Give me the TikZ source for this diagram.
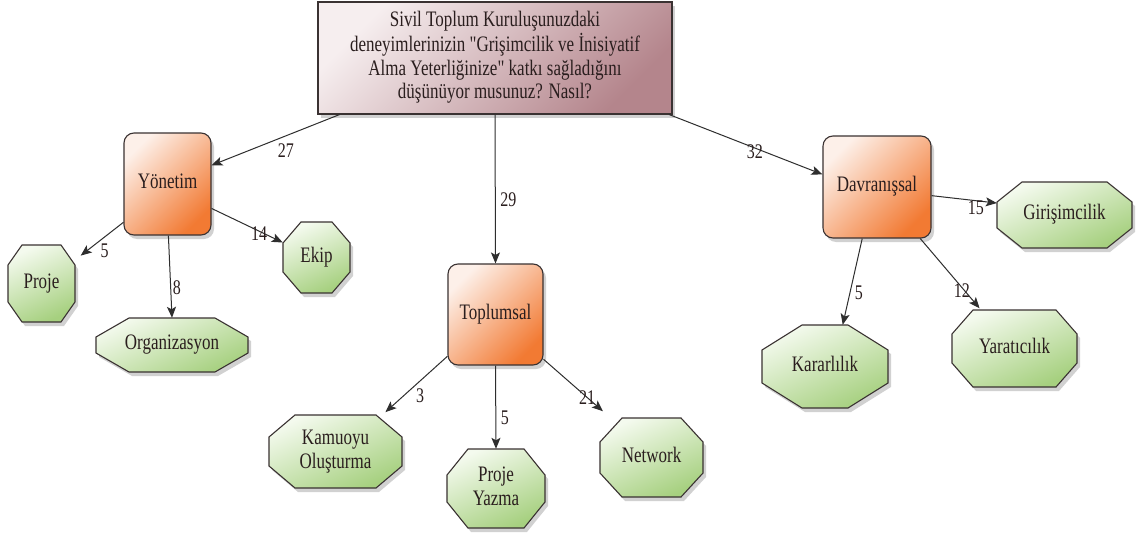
\documentclass[tikz,border=0pt]{standalone}
\usepackage{fontspec}
\setmainfont{Liberation Serif}[Ligatures=TeXOff]
\usepackage{graphicx}
\usetikzlibrary{arrows.meta,shadows}
\definecolor{txt}{HTML}{2A1E1E}
\definecolor{edgec}{HTML}{3A3232}
\definecolor{linec}{HTML}{2E2E2E}
\definecolor{topA}{HTML}{F6EEEF}
\definecolor{topB}{HTML}{E2CDD0}
\definecolor{topC}{HTML}{B4858C}
\definecolor{orA}{HTML}{FDF0E9}
\definecolor{orB}{HTML}{FAC6AC}
\definecolor{orC}{HTML}{F27A33}
\definecolor{grA}{HTML}{F4FAEE}
\definecolor{grB}{HTML}{D6EBC2}
\definecolor{grC}{HTML}{A6D07F}
\newcommand\dtxt[1]{\scalebox{1}[1.3]{\begin{tabular}{@{}c@{}}#1\end{tabular}}}
\tikzset{
  shad/.style={drop shadow={shadow xshift=3pt,shadow yshift=-4pt,opacity=.18,fill=black}},
  topbox/.style={rectangle,draw=edgec,line width=1.1pt,top color=topA,middle color=topB,bottom color=topC,shading angle=45,shad,
    text=txt,font=\rmfamily\fontsize{17}{18}\selectfont,inner sep=0pt},
  catbox/.style={rectangle,rounded corners=10pt,draw=edgec,line width=1.1pt,top color=orA,middle color=orB,bottom color=orC,shading angle=45,shad,
    text=txt,font=\rmfamily\fontsize{17}{18}\selectfont,inner sep=0pt},
  octfill/.style={draw=edgec,line width=1.1pt,top color=grA,middle color=grB,bottom color=grC,shading angle=25,shad},
  octtext/.style={rectangle,inner sep=0pt,text=txt,font=\rmfamily\fontsize{17}{18.5}\selectfont},
  arr/.style={draw=linec,line width=1pt,-{Stealth[length=11pt,width=9pt,inset=2.5pt]}},
  lab/.style={inner sep=0pt,text=txt,font=\rmfamily\fontsize{16}{17}\selectfont},
}
% name, x1, y1, x2, y2, chamfer x, chamfer y, text
\newcommand\octnode[8]{%
  \path[octfill] ({#2+#6},{#3}) -- ({#4-#6},{#3}) -- ({#4},{#3+#7}) -- ({#4},{#5-#7})
    -- ({#4-#6},{#5}) -- ({#2+#6},{#5}) -- ({#2},{#5-#7}) -- ({#2},{#3+#7}) -- cycle;
  \node[octtext,minimum width={(#4-#2)*1pt},minimum height={(#5-#3)*1pt}] (#1) at ({(#2+#4)/2},{(#3+#5)/2}) {\dtxt{#8}};
}
\begin{document}
\begin{tikzpicture}[x=1pt,y=-1pt]
\useasboundingbox (0,0) rectangle (1137,535);
\fill[white] (0,0) rectangle (1137,535);

% main question
\node[topbox,minimum width=354pt,minimum height=112pt] (top) at (495,58)
  {\dtxt{Sivil Toplum Kuruluşunuzdaki\\deneyimlerinizin "Grişimcilik ve İnisiyatif\\Alma Yeterliğinize" katkı sağladığını\\düşünüyor musunuz? Nasıl?}};

% categories
\node[catbox,minimum width=87pt,minimum height=102pt] (yon) at (167.5,184) {\dtxt{Yönetim}};
\node[catbox,minimum width=95pt,minimum height=101pt] (topl) at (495.5,314.5) {\dtxt{Toplumsal}};
\node[catbox,minimum width=108pt,minimum height=102pt] (dav) at (877,187) {\dtxt{Davranışsal}};

% leaves
\octnode{proje}{8}{245}{75}{322}{14}{20}{Proje}
\octnode{org}{96}{318}{248}{372}{33}{19}{Organizasyon}
\octnode{ekip}{283}{222}{350}{293}{18}{21}{Ekip}
\octnode{kam}{269}{415}{402}{488}{26}{22}{Kamuoyu\\Oluşturma}
\octnode{py}{447}{449}{545}{528}{21}{26}{Proje\\Yazma}
\octnode{net}{600}{418}{703}{497}{22}{24}{Network}
\octnode{gir}{997}{182}{1132}{248}{25}{20}{Girişimcilik}
\octnode{kar}{762}{325}{888}{408}{40}{25}{Kararlılık}
\octnode{yar}{952}{310}{1077}{387}{21}{24}{Yaratıcılık}

% connectors
\draw[arr] (top.200.5) -- node[lab,pos=.42,yshift=-17pt]{\dtxt{27}} (yon.23.6);
\draw[arr] (top.south) -- node[lab,pos=.59,xshift=13pt]{\dtxt{29}} (topl.north);
\draw[arr] (top.342) -- node[lab,pos=.56,yshift=-6pt]{\dtxt{32}} (dav.167.5);

\draw[arr,shorten >=7pt] (yon.221.1) -- node[lab,pos=.39,yshift=-16pt]{\dtxt{5}} (proje.35.7);
\draw[arr] (yon.271.7) -- node[lab,pos=.66,xshift=6pt]{\dtxt{8}} (org.north);
\draw[arr] (yon.331.1) -- node[lab,pos=.667,yshift=-5pt]{\dtxt{14}} (ekip.156.6);

\draw[arr,shorten >=4pt] (topl.221.8) -- node[lab,pos=.45,xshift=2pt,yshift=-15pt]{\dtxt{3}} (kam.38.9);
\draw[arr] (topl.south) -- node[lab,pos=.65,xshift=9pt]{\dtxt{5}} (py.north);
\draw[arr,shorten >=10pt] (topl.317.5) -- node[lab,pos=.65,yshift=-3pt]{\dtxt{21}} (net.136.7);

\draw[arr] (dav.351.6) -- node[lab,pos=.68,yshift=-9pt]{\dtxt{15}} (gir.170.7);
\draw[arr] (dav.254.6) -- node[lab,pos=.655,xshift=9.5pt]{\dtxt{5}} (kar.67.7);
\draw[arr,shorten >=2pt] (dav.310.8) -- node[lab,pos=.77,xshift=-5pt]{\dtxt{12}} (yar.131.7);
\end{tikzpicture}
\end{document}
